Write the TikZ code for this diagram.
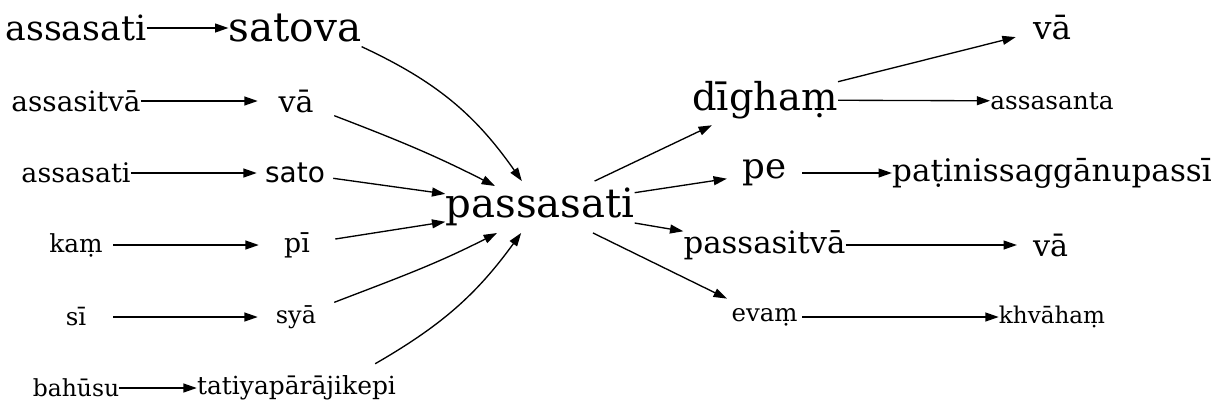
\documentclass[tikz,border=0pt]{standalone}
\usepackage{fontspec}
\setmainfont{DejaVu Serif}
\newfontfamily\sansf{DejaVu Sans}
\usetikzlibrary{arrows.meta}
\begin{document}
\begin{tikzpicture}[x=0.75pt,y=-0.75pt,
  w/.style={inner sep=0pt, minimum height=36pt, font=\fontsize{#1}{#1}\selectfont},
  mw/.style={minimum width=#1},
  e/.style={-{Triangle[length=10pt,width=6.7pt]}, line width=1pt}]
\useasboundingbox (0,0) rectangle (1217,419);
% column A
\node[w=26.1] (a1) at (76,28) {assasati};
\node[w=21] (a2) at (76,101) {assasitvā};
\node[w=20.2] (a3) at (76,173) {assasati};
\node[w=18.6, mw=55.5pt] (a4) at (76,245) {kaṃ};
\node[w=18.4, mw=55.5pt] (a5) at (76,317) {sī};
\node[w=17.6] (a6) at (76,388) {bahūsu};
% column B
\node[w=30.4] (b1) at (295,28) {satova};
\node[w=22.6, mw=57pt] (b2) at (296,101) {vā};
\node[w=21, mw=57pt, font=\sansf\fontsize{21}{21}\selectfont] (b3) at (295,173) {sato};
\node[w=20, mw=57pt] (b4) at (297,245) {pī};
\node[w=18, mw=57pt] (b5) at (296,317) {syā};
\node[w=18.7] (b6) at (296.5,388) {tatiyapārājikepi};
% centre
\node[w=30.2, minimum height=38.5pt] (c) at (540,207) {passasati};
% column D
\node[w=28.8, minimum height=37.5pt] (d1) at (765,100) {dīghaṃ};
\node[w=26.7, mw=56pt] (d2) at (764.5,173) {pe};
\node[w=23.1] (d3) at (764.5,245) {passasitvā};
\node[w=18.3, mw=56pt] (d4) at (764.5,317) {evaṃ};
% column E
\node[w=24.5, mw=54pt] (e1) at (1052,28) {vā};
\node[w=18.6] (e2) at (1052,101) {assasanta};
\node[w=23.3] (e3) at (1052,173) {paṭinissaggānupassī};
\node[w=22.6, mw=50pt] (e4) at (1050.5,245) {vā};
\node[w=17.3] (e5) at (1052,317) {khvāhaṃ};
% edges A -> B
\draw[e] (a1) -- (b1);
\draw[e] (a2) -- (b2);
\draw[e] (a3) -- (b3);
\draw[e] (a4) -- (b4);
\draw[e] (a5) -- (b5);
\draw[e] (a6) -- (b6);
% edges B -> C
\draw[e] ([yshift=-14pt]b1.east) to[out=-25,in=125] (c);
\draw[e] (b2) to[out=-21,in=153] ([shift={(-33.75pt,15.75pt)}]c.center);
\draw[e] (b3) -- (c);
\draw[e] (b4) -- (c);
\draw[e] (b5) to[out=21,in=-153] ([shift={(-32.25pt,-19.5pt)}]c.center);
\draw[e] ([xshift=59pt]b6.north) to[out=30,in=-126] (c);
% edges C -> D
\draw[e] (c) -- (d1);
\draw[e] (c) -- (d2);
\draw[e] (c) -- (d3);
\draw[e] (c) -- (d4);
% edges D -> E
\draw[e] (d1) -- (e1);
\draw[e] (d1) -- (e2);
\draw[e] (d2) -- (e3);
\draw[e] (d3) -- (e4);
\draw[e] (d4) -- (e5);
\end{tikzpicture}
\end{document}
